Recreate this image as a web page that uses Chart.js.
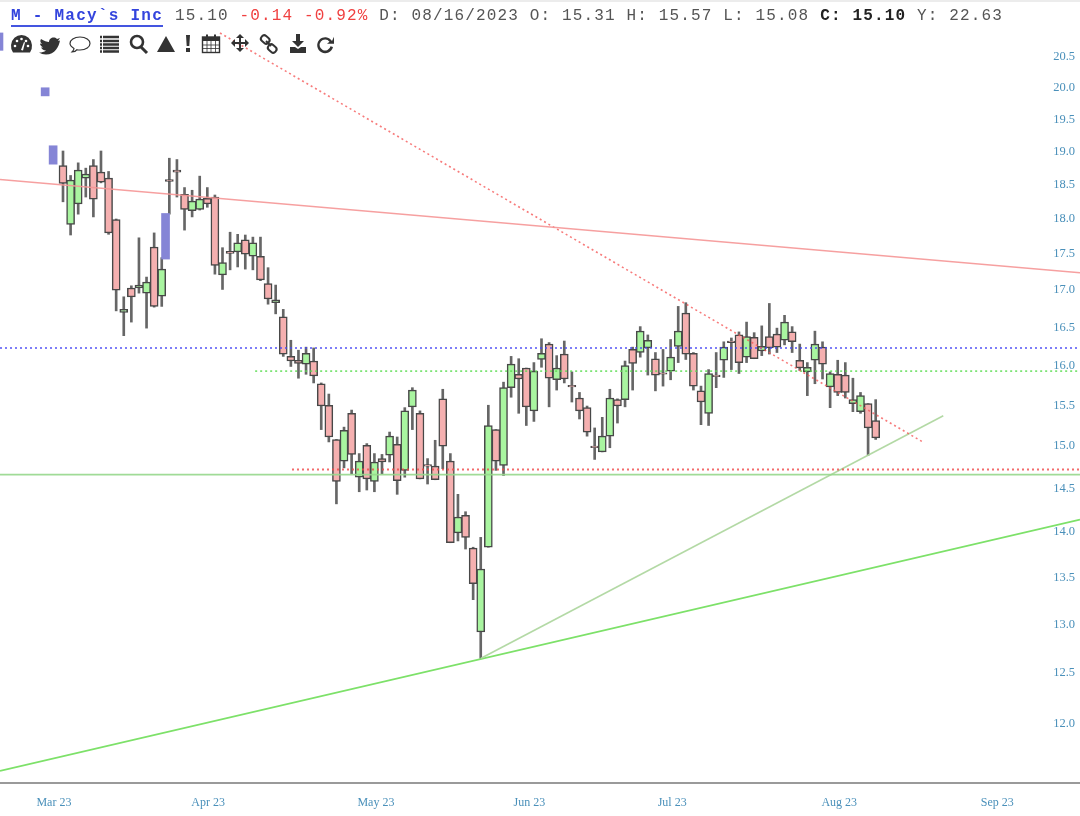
<!DOCTYPE html>
<html>
<head>
<meta charset="utf-8">
<script src="https://cdn.jsdelivr.net/npm/chart.js@4/dist/chart.umd.min.js"></script>
<style>
html,body{margin:0;padding:0;background:#fff;width:1080px;height:816px;overflow:hidden}
#wrap{position:relative;width:1080px;height:816px;filter:blur(0.35px)}
#band{position:absolute;left:0;top:0;width:1080px;height:2px;background:#ececec}
canvas{position:absolute;left:0;top:0}
.hdr{position:absolute;top:7px;font:16px/19px "Liberation Mono",monospace;letter-spacing:1.15px;white-space:pre;color:#555}
#title{left:11px;color:#3344dd;font-weight:bold;letter-spacing:1.26px;border-bottom:2px solid #4455e0;line-height:18px}
#tools{position:absolute;left:0;top:30px}
</style>
</head>
<body>
<div id="wrap">
<canvas id="c" width="1080" height="816"></canvas>
<div id="band"></div>
<div class="hdr" id="title">M - Macy`s Inc</div>
<div class="hdr" style="left:175px">15.10 <span style="color:#f04040">-0.14 -0.92%</span> D: 08/16/2023 O: 15.31 H: 15.57 L: 15.08 <b style="color:#222">C: 15.10</b> Y: 22.63</div>
<svg id="tools" width="340" height="28" viewBox="0 30 340 28" fill="#333">
  <path d="M13 52.500a10.500 11 0 1 1 17 0z"/><g fill="#fff"><circle cx="15" cy="46" r="1.300"/><circle cx="17" cy="41" r="1.300"/><circle cx="21.500" cy="39" r="1.300"/><circle cx="26" cy="41" r="1.300"/><circle cx="28" cy="46" r="1.300"/></g><path d="M21 50l3-8 1 .5-2 8z" fill="#fff"/>
  <path d="M41 39c3 2 6 3 8 3 0-4 5-6 8-3l3-1-2 3 2-.5c-1 6-5 14-14 14-3 0-5-1-7-2 3 0 5-.5 7-2-3 0-4-2-5-3h2c-2-1-3-3-3-4l2 .5c-2-2-2-3-1-5z"/>
  <path d="M80 37c6 0 10 3 10 6.500s-4 6.500-10 6.500c-1 0-2 0-3-.3-1 1.500-3 2.300-5 2.300 1-1 2-2 2-3.500-2-1.300-4-3-4-5 0-3.500 4-6.500 10-6.500z" fill="none" stroke="#333" stroke-width="1.2"/>
  <g stroke="#333" stroke-width="2.400"><path d="M100 37h19M100 41h19M100 44.500h19M100 48h19M100 51.500h19" stroke-dasharray="2 1 16 0"/></g>
  <circle cx="137" cy="42" r="6" fill="none" stroke="#333" stroke-width="2.600"/><path d="M141 47l6 6" stroke="#333" stroke-width="3"/>
  <path d="M166 36l9 16h-18z"/>
  <path d="M186 35h4l-.7 11h-2.600zM186 48h4v4h-4z"/>
  <rect x="202.500" y="37" width="17" height="15.500" fill="none" stroke="#333" stroke-width="1.400"/><path d="M202 37h18v4h-18zM206 34.500h2v4h-2zM214 34.500h2v4h-2z"/><path d="M207 41v11M211 41v11M215.500 41v11M203 45h17M203 48.500h17" stroke="#333" stroke-width=".8"/>
  <path d="M240 34l4 4h-3v4h4v-3l4 4-4 4v-3h-4v4h3l-4 4-4-4h3v-4h-4v3l-4-4 4-4v3h4v-4h-3z"/>
  <g fill="none" stroke="#333" stroke-width="2"><rect x="261" y="36" width="9" height="6.500" rx="3" transform="rotate(40 265 39)"/><rect x="268" y="45" width="9" height="6.500" rx="3" transform="rotate(40 272 48)"/><path d="M266 41l5 5"/></g>
  <path d="M296 34h4v7h4l-6 6-6-6h4zM290 47h5l3 2 3-2h5v6h-16z"/>
  <path d="M332 41a8 8 0 1 0 1 6l-2.500-.8a5.500 5.500 0 1 1-1-4.500l-2.500 2h7v-7z"/>
</svg>
</div>
<script>
const opens=[18.79,17.92,18.22,18.60,18.79,18.69,18.60,17.99,16.70,17.03,17.03,16.96,17.60,16.92,18.58,18.72,18.36,18.12,18.14,18.30,18.32,17.21,17.54,17.53,17.70,17.47,17.47,17.09,16.83,16.64,16.12,16.07,16.02,16.06,15.77,15.50,15.08,14.82,15.40,14.63,15.01,14.58,14.85,14.89,15.02,14.71,15.48,15.40,14.78,14.76,15.58,14.82,13.99,14.19,13.82,12.92,13.83,15.20,14.77,15.72,15.89,15.97,15.43,16.08,16.28,15.82,16.15,15.75,15.59,15.47,15.00,14.93,15.12,15.57,15.57,16.21,16.17,16.23,16.09,15.91,15.93,16.25,16.69,16.16,15.68,15.40,15.88,16.07,16.32,16.40,16.11,16.37,16.19,16.38,16.41,16.33,16.44,16.07,15.92,16.07,16.24,15.73,15.89,15.88,15.52,15.42,15.52,15.31];
const highs=[19.01,18.64,18.83,18.75,18.88,19.01,18.70,18.00,16.91,17.06,17.73,17.18,17.80,17.45,18.90,18.88,18.46,18.42,18.63,18.46,18.35,17.59,17.81,17.78,17.77,17.74,17.74,17.31,17.07,16.74,16.33,16.20,16.24,16.23,15.78,15.64,15.08,15.23,15.44,14.91,15.03,14.91,14.90,15.17,15.11,15.47,15.72,15.43,14.85,15.07,15.70,14.91,14.43,14.23,13.83,13.94,15.50,15.20,15.79,16.12,16.09,15.97,16.04,16.35,16.30,16.13,16.32,15.92,15.66,15.49,15.22,15.35,15.70,15.58,16.06,16.24,16.51,16.40,16.17,16.21,16.34,16.78,16.83,16.17,15.74,15.95,16.17,16.31,16.36,16.44,16.57,16.43,16.52,16.82,16.49,16.66,16.51,16.28,16.04,16.45,16.31,15.92,16.07,16.04,15.84,15.66,15.52,15.57];
const lows=[18.25,17.77,18.07,18.32,18.03,18.53,17.78,16.72,16.39,16.57,16.96,16.49,16.77,16.78,18.07,18.32,17.84,18.03,18.13,18.17,17.22,17.01,17.28,17.32,17.29,17.28,17.13,16.81,16.68,16.12,15.99,15.84,15.89,15.78,15.20,15.05,14.32,14.74,14.67,14.46,14.48,14.46,14.67,14.81,14.43,14.63,15.20,14.61,14.55,14.60,14.73,13.88,13.90,13.81,13.26,12.65,13.83,14.71,14.65,15.60,15.40,15.25,15.30,15.98,15.48,15.69,15.78,15.54,15.33,15.12,14.84,14.93,14.98,15.28,15.48,15.69,16.11,15.88,15.68,15.74,15.82,16.04,16.08,15.69,15.26,15.25,15.72,15.85,15.95,15.90,16.04,16.09,16.13,16.15,16.17,16.27,16.17,15.94,15.62,15.77,15.83,15.47,15.62,15.59,15.42,15.40,14.89,15.08];
const closes=[18.52,18.57,18.72,18.66,18.29,18.54,17.80,17.00,16.74,16.91,17.07,17.11,16.78,17.29,18.55,18.69,18.14,18.26,18.29,18.22,17.34,17.38,17.51,17.66,17.50,17.66,17.14,16.88,16.87,16.15,16.06,16.03,16.16,15.87,15.49,15.11,14.58,15.19,14.90,14.82,14.61,14.81,14.81,15.12,14.59,15.43,15.69,14.61,14.76,14.60,15.00,13.88,14.17,13.94,13.43,13.59,15.25,14.82,15.72,16.02,15.83,15.48,15.93,16.16,15.84,15.97,15.83,15.73,15.43,15.17,14.98,15.12,15.59,15.49,16.00,16.03,16.45,16.33,15.88,15.89,16.11,16.45,16.15,15.74,15.54,15.90,15.86,16.24,16.30,16.04,16.38,16.09,16.25,16.23,16.24,16.57,16.31,15.97,15.98,16.28,16.02,15.90,15.66,15.66,15.57,15.62,15.22,15.10];
const priceTicks=[12.0,12.5,13.0,13.5,14.0,14.5,15.0,15.5,16.0,16.5,17.0,17.5,18.0,18.5,19.0,19.5,20.0,20.5];
const monthLabels=["Mar 23","Apr 23","May 23","Jun 23","Jul 23","Aug 23","Sep 23"];
const monthAt=[-1.2,19.1,41.2,61.4,80.2,102.2,123];
const blueX=[-8.43,-2.35,-1.3,13.5];
const blueLo=[20.61,19.87,18.81,17.43];
const blueHi=[20.90,20.00,19.09,18.08];
const xMin=-8.295, xMax=133.9;
const resistanceLine=[{x:xMin,y:18.58},{x:xMax,y:17.24}];
const fallingDotted=[{x:20.67,y:20.90},{x:113.2,y:15.05}];
const redLevel=[{x:30.15,y:14.72},{x:xMax,y:14.72}];
const greenLevel=[{x:xMin,y:14.66},{x:xMax,y:14.66}];
const blueLevel=[{x:xMin,y:16.23},{x:xMax,y:16.23}];
const greenDotted=[{x:25.3,y:15.93},{x:xMax,y:15.93}];
const paleRising=[{x:55.04,y:12.65},{x:115.9,y:15.37}];
const supportLine=[{x:xMin,y:11.556},{x:xMax,y:14.14}];

const idx=opens.map((_,i)=>i);
const line=(data,color,width,dash)=>({type:'line',data,borderColor:color,borderWidth:width,borderDash:dash||[],pointRadius:0,fill:false,tension:0,order:0});
new Chart(document.getElementById('c'),{
  data:{datasets:[
    line(resistanceLine,'rgba(245,150,150,.9)',1.5),
    line(fallingDotted,'rgba(245,90,90,.8)',1.6,[2,3]),
    line(redLevel,'rgba(240,70,70,.8)',2,[2,3]),
    line(greenLevel,'rgba(150,215,140,.9)',1.6),
    line(blueLevel,'rgba(70,70,245,.7)',2,[2,3]),
    line(greenDotted,'rgba(90,220,80,.8)',1.6,[2,3]),
    line(paleRising,'rgba(175,215,160,.95)',1.6),
    line(supportLine,'rgba(125,225,105,1)',1.8),
    {type:'bar',grouped:false,order:1,barThickness:8,backgroundColor:'#8585d6',borderWidth:0,
      data:blueX.map((x,i)=>({x,y:[blueLo[i],blueHi[i]]}))},
    {type:'bar',grouped:false,order:2,barThickness:8,borderSkipped:false,borderWidth:1.5,borderColor:'#484848',
      backgroundColor:idx.map(i=>closes[i]>=opens[i]?'#a9f5a0':'#f5b0b0'),
      data:idx.map(i=>({x:i,y:[opens[i],closes[i]]}))},
    {type:'bar',grouped:false,order:3,barThickness:2,backgroundColor:'#666',borderWidth:0,
      data:idx.map(i=>({x:i,y:[lows[i],highs[i]]}))}
  ]},
  options:{
    responsive:false,animation:false,
    layout:{padding:0},
    plugins:{legend:{display:false},tooltip:{enabled:false}},
    scales:{
      x:{type:'linear',offset:false,min:xMin,max:xMax,
        grid:{display:false,offset:false,drawTicks:false,tickLength:0},
        border:{display:true,color:'#9a9a9a',width:2},
        afterBuildTicks:s=>{s.ticks=monthAt.map(v=>({value:v}));},
        afterFit:s=>{s.height=33;s.paddingLeft=0;s.paddingRight=0;},
        ticks:{autoSkip:false,maxRotation:0,padding:13,color:'#4a90ba',
          font:{family:'"Liberation Serif",serif',size:12},
          callback:(v,i)=>monthLabels[i]}},
      y:{type:'logarithmic',position:'right',min:11.445,max:21.46,
        grid:{display:false,drawTicks:false,tickLength:0},
        border:{display:false},
        afterBuildTicks:s=>{s.ticks=priceTicks.map(v=>({value:v}));},
        afterFit:s=>{s.width=0;s.paddingTop=0;s.paddingBottom=0;},
        ticks:{mirror:true,padding:-5,autoSkip:false,color:'#4a90ba',
          font:{family:'"Liberation Serif",serif',size:12.5},
          callback:v=>Number(v).toFixed(1)}}
    }
  }
});
</script>
</body>
</html>
